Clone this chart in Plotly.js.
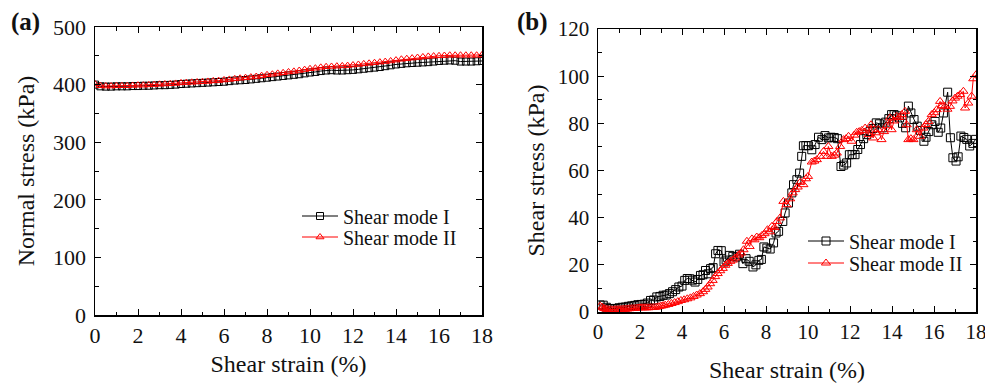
<!DOCTYPE html>
<html>
<head>
<meta charset="utf-8">
<script src="https://cdn.plot.ly/plotly-3.0.1.min.js"></script>
<style>
html,body{margin:0;padding:0;background:#fff;}
#chart{width:985px;height:386px;}
</style>
</head>
<body>
<div id="chart"></div>
<script>
// ---------- Data ----------
// Panel (a): normal stress vs shear strain
const strainA = [0,0.25,0.5,0.75,1,1.25,1.5,1.75,2,2.25,
  2.5,2.75,3,3.25,3.5,3.75,4,4.25,4.5,4.75,
  5,5.25,5.5,5.75,6,6.25,6.5,6.75,7,7.25,
  7.5,7.75,8,8.25,8.5,8.75,9,9.25,9.5,9.75,
  10,10.25,10.5,10.75,11,11.25,11.5,11.75,12,12.25,
  12.5,12.75,13,13.25,13.5,13.75,14,14.25,14.5,14.75,
  15,15.25,15.5,15.75,16,16.25,16.5,16.75,17,17.25,
  17.5,17.75,18];
const normalModeI = [400,397,396.5,396.5,397,397,397,397.5,397.5,398,
  398,398.5,399,399,399.5,400,401,401.5,402,402.5,
  403,403.5,404,404.5,405,406,407,407.5,408,409,
  410,411,412,413,414,415,416,417,418,419.5,
  421,422,423.5,424.5,425,424.5,424.5,425,425.5,426.5,
  427.5,428.5,429.5,430.5,432,433.5,435,436,437,437.5,
  438,438.5,439,440,441,441.5,442,441.5,440,440,
  440,440.5,441];
const normalModeII = [401,398,397.5,397.5,398,398,398,398.5,399,399,
  399.5,400,400.5,401,401.5,402,403,403.5,404,404.5,
  405,405.5,406.5,407,408,409,410,411,412,413,
  414,415.5,417,418,419.5,420.5,422,423,424.5,426,
  427.5,428.5,430,431,431.5,432,432.5,433,434,435,
  436,437,438,439,440,441,442.5,444,445,446,
  447,448,449,449.5,450,450.5,451,451,451,451,
  451,451,451.5];

// Panel (b): shear stress vs shear strain
const strainB1 = [0.1,0.25,0.4,0.55,0.7,0.85,1.0,1.15,1.3,1.45,
  1.6,1.75,1.9,2.05,2.2,2.35,2.5,2.65,2.8,2.95,
  3.1,3.25,3.4,3.55,3.7,3.85,4.0,4.13,4.25,4.37,
  4.5,4.62,4.75,4.88,5.0,5.12,5.24,5.36,5.48,5.6,
  5.71,5.87,6.0,6.1,6.27,6.42,6.58,6.74,6.9,7.05,
  7.2,7.38,7.52,7.66,7.78,7.9,8.04,8.2,8.36,8.48,
  8.6,8.8,8.91,9.07,9.23,9.31,9.47,9.6,9.7,9.78,
  9.9,10.02,10.18,10.34,10.5,10.66,10.81,10.97,11.1,11.25,
  11.4,11.57,11.7,11.84,11.97,12.1,12.24,12.37,12.5,12.65,
  12.8,12.95,13.1,13.25,13.4,13.55,13.7,13.85,13.98,14.1,
  14.22,14.36,14.5,14.65,14.78,14.9,15.05,15.2,15.35,15.52,
  15.62,15.75,15.9,16.05,16.2,16.32,16.45,16.65,16.78,16.9,
  17.05,17.15,17.28,17.42,17.56,17.7,17.85,17.98];
const shearModeI = [3.0,2.9,2.0,1.5,1.4,1.5,1.8,2.0,2.1,2.4,
  2.6,2.8,3.1,3.2,3.3,3.8,4.9,5.1,6.4,6.6,
  7.1,7.2,7.8,8.6,9.5,10.6,11.0,13.4,14.2,14.1,
  13.5,12.7,13.8,15.5,15.8,17.6,16.2,18.4,18.8,24.7,
  26.1,26.0,21.2,22.0,24.0,23.6,23.3,24.5,20.5,22.6,
  21.5,19.1,20.0,21.9,22.3,27.6,27.1,26.7,29.3,33.5,
  34.2,38.4,42.0,46.2,50.5,54.0,56.1,58.9,66.0,70.5,
  70.6,70.5,68.8,71.0,74.1,73.1,74.8,73.8,74.1,74.0,
  73.5,61.7,62.3,63.2,66.7,66.8,66.7,68.9,71.0,73.5,
  75.2,76.5,77.8,80.2,79.8,78.1,80.5,82.0,83.7,83.7,
  83.2,82.3,80.0,78.1,87.3,84.4,81.6,78.8,77.0,72.4,
  74.1,76.5,79.4,80.8,76.2,78.0,84.4,93.2,73.9,65.4,
  64.0,65.8,74.6,74.0,73.2,70.4,71.5,73.2];
const strainB2 = [0.1,0.2,0.3,0.4,0.5,0.6,0.7,0.8,0.9,1.0,
  1.1,1.2,1.3,1.4,1.5,1.6,1.7,1.8,1.9,2.0,
  2.1,2.2,2.3,2.4,2.5,2.6,2.7,2.8,2.9,3.0,
  3.1,3.2,3.35,3.5,3.65,3.8,3.95,4.1,4.25,4.4,
  4.55,4.7,4.85,5.0,5.11,5.22,5.34,5.46,5.58,5.7,
  5.82,5.94,6.06,6.18,6.3,6.42,6.53,6.69,6.81,6.93,
  7.09,7.22,7.33,7.45,7.56,7.68,7.8,7.93,8.07,8.18,
  8.28,8.4,8.52,8.67,8.83,8.98,9.15,9.27,9.39,9.51,
  9.63,9.78,9.9,10.0,10.18,10.3,10.42,10.58,10.74,10.9,
  10.97,11.13,11.25,11.37,11.53,11.69,11.81,11.93,12.08,12.2,
  12.32,12.44,12.56,12.72,12.88,13.0,13.1,13.22,13.35,13.5,
  13.62,13.75,13.9,13.98,14.1,14.22,14.34,14.46,14.62,14.7,
  14.78,14.9,15.02,15.18,15.33,15.49,15.61,15.73,15.89,16.01,
  16.13,16.29,16.4,16.52,16.64,16.76,16.88,17.0,17.12,17.24,
  17.4,17.48,17.63,17.79,17.87,18.0];
const shearModeII = [2.5,2.0,1.5,1.2,1.0,1.0,0.9,1.0,1.0,1.1,
  1.1,1.2,1.2,1.3,1.4,1.5,1.5,1.6,1.7,1.8,
  1.8,1.8,1.8,1.8,1.9,1.9,2.0,2.1,2.3,2.5,
  2.7,2.9,3.2,3.6,4.0,4.4,4.9,5.2,5.6,6.0,
  6.6,7.2,7.8,8.6,9.6,10.6,12.0,13.4,15.0,16.3,
  17.5,18.5,19.8,20.6,21.5,22.0,22.9,24.2,25.0,26.4,
  30.0,27.8,31.0,30.6,31.8,31.5,32.4,33.2,34.9,34.0,
  36.3,35.8,38.4,39.9,46.9,45.5,48.0,50.5,51.9,53.0,
  55.0,54.0,56.5,57.5,63.6,64.0,64.6,66.0,68.1,66.0,
  70.2,66.0,66.5,67.4,70.2,73.1,73.5,74.5,72.4,75.0,
  76.2,76.5,77.0,78.0,75.2,79.4,73.8,76.0,77.3,73.1,
  76.5,79.0,82.3,77.3,81.0,83.0,82.5,83.7,85.1,79.4,
  73.1,73.5,73.1,77.3,74.5,78.0,79.5,80.8,83.7,84.5,
  85.8,89.3,87.5,87.2,86.0,87.2,89.5,90.7,91.5,92.2,
  93.6,86.5,88.6,91.5,98.9,100.6];

const seriesNames = ['Shear mode I', 'Shear mode II'];
const xTitle = 'Shear strain (%)';
const yTitleA = 'Normal stress (kPa)';
const yTitleB = 'Shear stress (kPa)';

// ---------- Style helpers ----------
const W = 985, H = 386;
const FONT = '"Liberation Serif","Times New Roman",serif';
const px = v => v / W;
const py = v => 1 - v / H;

function axisBase(extra) {
  return Object.assign({
    showline: true, linecolor: '#000', linewidth: 1.5, mirror: 'ticks',
    ticks: 'inside', ticklen: 6, tickwidth: 1, tickcolor: '#000',
    showgrid: false, zeroline: false, automargin: false,
    tickfont: {family: FONT, size: 22, color: '#111'},
    ticklabeloverflow: 'allow'
  }, extra);
}

const traces = [
  {x: strainA, y: normalModeI, name: seriesNames[0], xaxis: 'x', yaxis: 'y', legend: 'legend',
   mode: 'lines+markers', line: {color: '#000', width: 1},
   marker: {symbol: 'square-open', size: 7, color: '#000', line: {width: 1}}},
  {x: strainA, y: normalModeII, name: seriesNames[1], xaxis: 'x', yaxis: 'y', legend: 'legend2',
   mode: 'lines+markers', line: {color: '#ff0000', width: 1},
   marker: {symbol: 'triangle-up-open', size: 7, color: '#ff0000', line: {width: 1}}},
  {x: strainB1, y: shearModeI, name: seriesNames[0], xaxis: 'x2', yaxis: 'y2', legend: 'legend3',
   mode: 'lines+markers', line: {color: '#000', width: 1},
   marker: {symbol: 'square-open', size: 8, color: '#000', line: {width: 1}}},
  {x: strainB2, y: shearModeII, name: seriesNames[1], xaxis: 'x2', yaxis: 'y2', legend: 'legend4',
   mode: 'lines+markers', line: {color: '#ff0000', width: 1},
   marker: {symbol: 'triangle-up-open', size: 8, color: '#ff0000', line: {width: 1}}}
];

function legendAt(xpx, ypx) {
  return {x: px(xpx), y: py(ypx), xanchor: 'left', yanchor: 'middle',
    bgcolor: 'rgba(0,0,0,0)', borderwidth: 0, itemwidth: 36,
    font: {family: FONT, size: 20, color: '#111'}};
}

const layout = {
  width: W, height: H,
  margin: {l: 0, r: 0, t: 0, b: 0},
  paper_bgcolor: '#fff', plot_bgcolor: '#fff',
  font: {family: FONT, color: '#111'},
  showlegend: true,
  xaxis: axisBase({domain: [px(95), px(482)], range: [0, 18], dtick: 2, tick0: 0,
    ticklabelstandoff: 0,
    minor: {ticks: 'inside', dtick: 1, ticklen: 3.5, tickcolor: '#000'},
    anchor: 'y', title: {text: xTitle, font: {family: FONT, size: 24, color: '#111'}, standoff: 8}}),
  yaxis: axisBase({domain: [py(315), py(27)], range: [0, 500], dtick: 100, tick0: 0,
    ticklabelstandoff: 3,
    minor: {ticks: 'inside', dtick: 50, ticklen: 3.5, tickcolor: '#000'},
    anchor: 'x', title: {text: yTitleA, font: {family: FONT, size: 24, color: '#111'}, standoff: 11}}),
  xaxis2: axisBase({domain: [px(598), px(976)], range: [0, 18], dtick: 2, tick0: 0,
    ticklabelstandoff: 0,
    tickfont: {family: FONT, size: 21, color: '#111'},
    minor: {ticks: 'inside', dtick: 1, ticklen: 3.5, tickcolor: '#000'},
    anchor: 'y2', title: {text: xTitle, font: {family: FONT, size: 24, color: '#111'}, standoff: 18}}),
  yaxis2: axisBase({domain: [py(312), py(29)], range: [0, 120], dtick: 20, tick0: 0,
    ticklabelstandoff: 3,
    tickfont: {family: FONT, size: 21, color: '#111'},
    minor: {ticks: 'inside', dtick: 10, ticklen: 3.5, tickcolor: '#000'},
    anchor: 'x2', title: {text: yTitleB, font: {family: FONT, size: 24, color: '#111'}, standoff: 6}}),
  legend: legendAt(297, 216),
  legend2: legendAt(297, 237),
  legend3: legendAt(803, 241),
  legend4: legendAt(803, 263),
  annotations: [
    {text: '<b>(a)</b>', xref: 'paper', yref: 'paper', x: px(25), y: py(22), showarrow: false,
     xanchor: 'center', yanchor: 'middle', font: {family: FONT, size: 25, color: '#111'}},
    {text: '<b>(b)</b>', xref: 'paper', yref: 'paper', x: px(532), y: py(22), showarrow: false,
     xanchor: 'center', yanchor: 'middle', font: {family: FONT, size: 25, color: '#111'}}
  ]
};

Plotly.newPlot('chart', traces, layout, {displayModeBar: false, staticPlot: true});
</script>
</body>
</html>
